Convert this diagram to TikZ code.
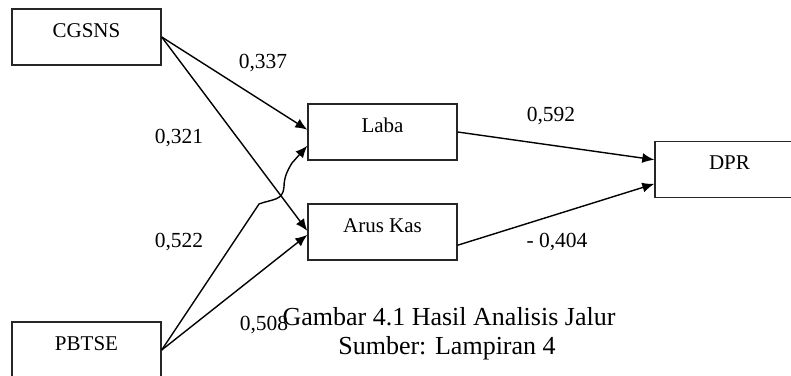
\documentclass[tikz,border=0pt]{standalone}
\usepackage{fontspec}
\setmainfont{Liberation Serif}
\usetikzlibrary{arrows.meta,calc}
\begin{document}
\begin{tikzpicture}[x=1pt,y=-1pt,
  box/.style={draw=black!85,line width=1.4pt,minimum width=149pt,minimum height=56pt,inner sep=0pt,
    text height=10pt,text depth=10pt,font=\fontsize{21}{25}\selectfont},
  arr/.style={line width=1.4pt,-{Latex[length=12pt,width=10pt]}},
  lbl/.style={anchor=base,inner sep=0pt,font=\fontsize{21.5}{25}\selectfont},
  captext/.style={anchor=base,inner sep=0pt,font=\fontsize{26}{29}\selectfont}]
\useasboundingbox (0,0) rectangle (791,375);
\node[box] (cg) at (86.5,37) {CGSNS};
\node[box] (pb) at (86.5,350) {PBTSE};
\node[box] (laba) at (382.5,132) {Laba};
\node[box] (ak) at (382.5,232) {Arus Kas};
\node[box] (dpr) at (729.5,169.5) {DPR};
% connection points
\coordinate (labaA) at ($(laba.north west)!0.46!(laba.south west)$);
\coordinate (labaB) at ($(laba.north west)!0.74!(laba.south west)$);
\coordinate (akA) at ($(ak.north west)!0.48!(ak.south west)$);
\coordinate (akB) at ($(ak.north west)!0.55!(ak.south west)$);
\coordinate (labaOut) at ($(laba.north east)!0.5!(laba.south east)$);
\coordinate (akOut) at ($(ak.north east)!0.73!(ak.south east)$);
\coordinate (dprA) at ($(dpr.north west)!0.33!(dpr.south west)$);
\coordinate (dprB) at ($(dpr.north west)!0.75!(dpr.south west)$);
\coordinate (hop1) at (259,204);
\coordinate (hop2) at (292,163);
% connectors
\draw[arr] (cg.east) -- (labaA);
\draw[arr] (cg.east) -- (akA);
\draw[arr] (pb.east) -- (akB);
\draw[arr] (pb.east) -- (hop1) .. controls (272,199) and (283,201) .. (284,187)
  .. controls (284,178) and (287,171) .. (hop2) -- (labaB);
\draw[arr] (labaOut) -- (dprA);
\draw[arr] (akOut) -- (dprB);
% labels
\node[lbl] (l1) at (263,68) {0,337};
\node[lbl] (l2) at (179,143) {0,321};
\node[lbl] (l3) at (179,247) {0,522};
\node[lbl] (l4) at (264,330) {0,508};
\node[lbl] (l5) at (551,121) {0,592};
\node[lbl] (l6) at (557,247) {- 0,404};
% caption
\node[captext] (c1) at (449,325) {Gambar 4.1 Hasil Analisis Jalur};
\node[captext] (c2) at (447,354) {Sumber: Lampiran 4};
\end{tikzpicture}
\end{document}
